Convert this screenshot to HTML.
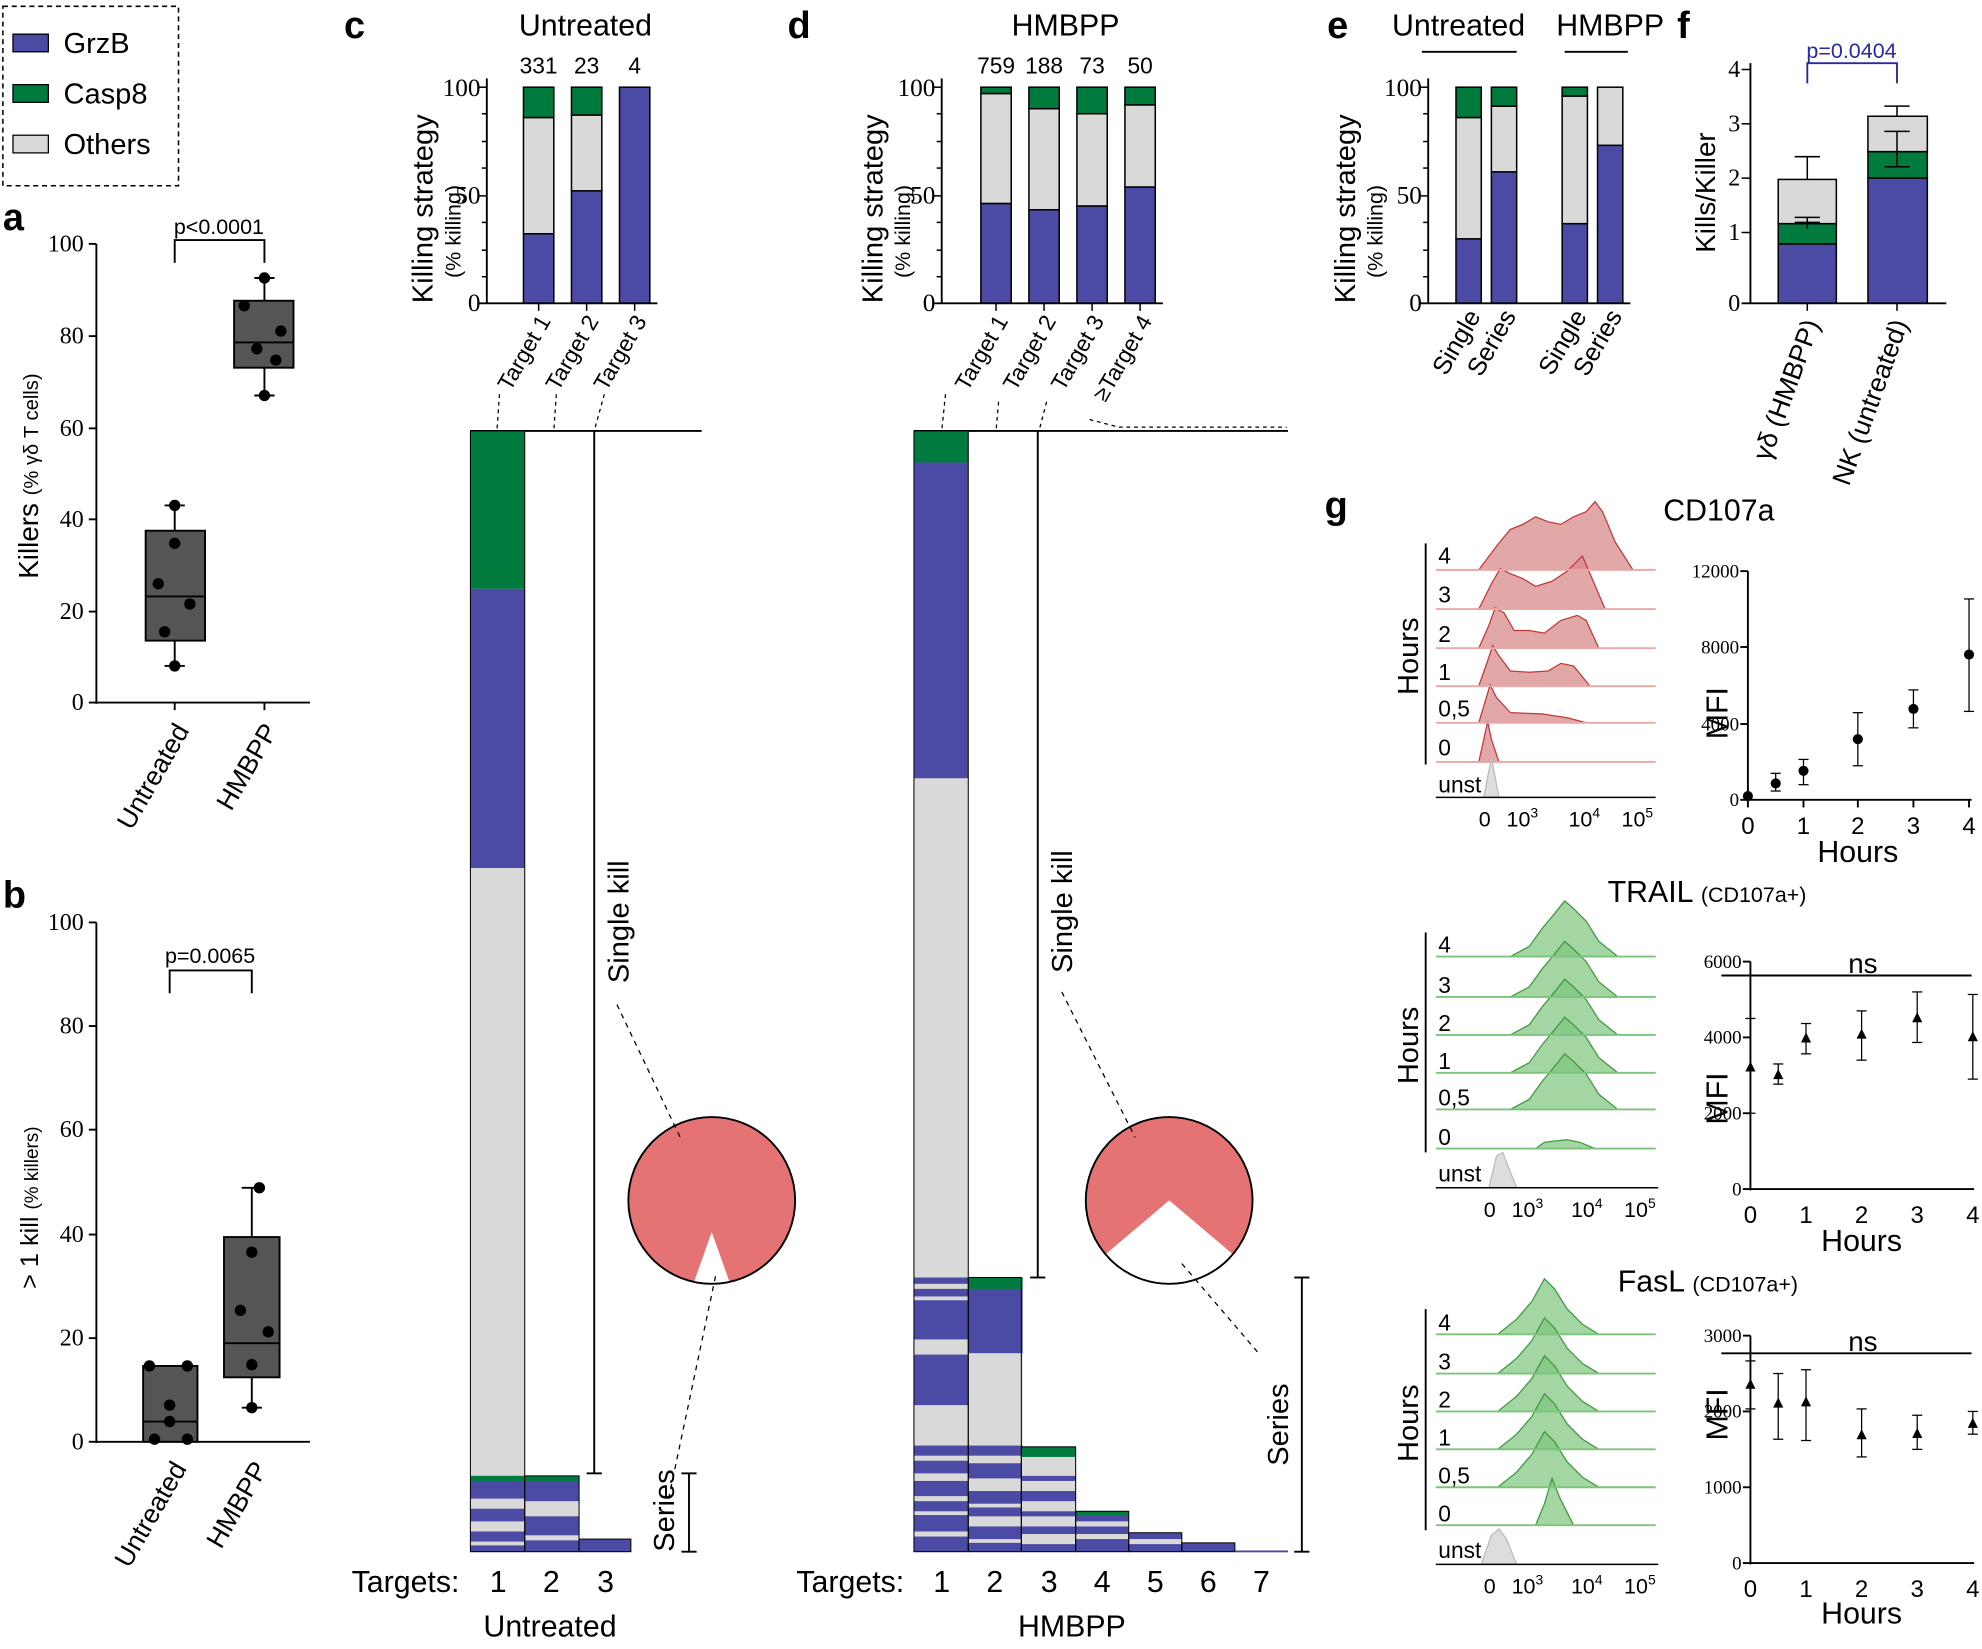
<!DOCTYPE html>
<html><head><meta charset="utf-8"><style>
html,body{margin:0;padding:0;background:#fff}
svg{display:block}
text{font-family:"Liberation Sans",sans-serif;fill:#000}
.s text,text.s{font-family:"Liberation Serif",serif}
</style></head><body>
<svg width="1982" height="1649" viewBox="0 0 1568 1305" xmlns="http://www.w3.org/2000/svg">
<defs>
<path id="r4" d="M1170,0 L1185,-20 L1195,-32 L1205,-36 L1215,-42 L1225,-38 L1235,-36 L1245,-42 L1255,-46 L1262,-54 L1268,-46 L1278,-22 L1292,0 Z"/>
<path id="r3" d="M1170,0 L1180,-20 L1187,-32 L1195,-28 L1205,-24 L1215,-18 L1228,-22 L1240,-30 L1252,-42 L1258,-28 L1270,0 Z"/>
<path id="r2" d="M1170,0 L1178,-18 L1183,-32 L1190,-28 L1198,-14 L1210,-14 L1222,-12 L1235,-22 L1248,-26 L1255,-22 L1265,0 Z"/>
<path id="r1" d="M1170,0 L1177,-20 L1181,-32 L1186,-24 L1195,-12 L1210,-11 L1225,-12 L1235,-18 L1245,-16 L1258,0 Z"/>
<path id="r05" d="M1170,0 L1176,-20 L1179,-30 L1184,-20 L1195,-8 L1220,-7 L1240,-4 L1255,0 Z"/>
<path id="r0" d="M1170,0 L1174,-18 L1177,-32 L1180,-18 L1186,0 Z"/>
<path id="gT" d="M1195,0 L1210,-8 L1220,-22 L1230,-34 L1238,-44 L1245,-38 L1255,-28 L1265,-12 L1280,0 Z"/>
<path id="gF" d="M1185,0 L1200,-12 L1212,-26 L1222,-44 L1230,-36 L1240,-20 L1252,-8 L1265,0 Z"/>
<clipPath id="pc"><circle cx="563" cy="950" r="66"/></clipPath>
<clipPath id="pd"><circle cx="925" cy="950" r="66"/></clipPath>
</defs>

<!-- Legend -->
<rect x="2" y="5" width="139" height="142" fill="none" stroke="#000" stroke-dasharray="4,3" stroke-width="1.2"/>
<rect x="10" y="27" width="28" height="14" fill="#4b4ba6" stroke="#000"/><text x="50" y="42" font-size="23">GrzB</text>
<rect x="10" y="67" width="28" height="14" fill="#007a3d" stroke="#000"/><text x="50" y="82" font-size="23">Casp8</text>
<rect x="10" y="107" width="28" height="14" fill="#d9d9d9" stroke="#000"/><text x="50" y="122" font-size="23">Others</text>

<!-- Panel a -->
<text x="2" y="182" font-size="30" font-weight="bold">a</text>
<g stroke="#000" stroke-width="1.5" fill="none">
<line x1="76" y1="193" x2="76" y2="557"/><line x1="76" y1="556" x2="245" y2="556"/>
<line x1="70" y1="193" x2="76" y2="193"/><line x1="70" y1="266" x2="76" y2="266"/><line x1="70" y1="339" x2="76" y2="339"/><line x1="70" y1="411" x2="76" y2="411"/><line x1="70" y1="484" x2="76" y2="484"/><line x1="70" y1="556" x2="76" y2="556"/>
<line x1="138" y1="556" x2="138" y2="562"/><line x1="209" y1="556" x2="209" y2="562"/>
<path d="M138,208 V190 H209 V208"/>
</g>
<g class="s" font-size="19" text-anchor="end"><text x="66" y="199">100</text><text x="66" y="272">80</text><text x="66" y="345">60</text><text x="66" y="417">40</text><text x="66" y="490">20</text><text x="66" y="562">0</text></g>
<text x="173" y="185" font-size="17" text-anchor="middle">p&lt;0.0001</text>
<text transform="translate(30,458) rotate(-90)" font-size="22">Killers <tspan font-size="16">(% γδ T cells)</tspan></text>
<g stroke="#000" stroke-width="1.5">
<line x1="138" y1="400" x2="138" y2="527"/><rect x="115" y="420" width="47" height="87" fill="#555"/><line x1="115" y1="472" x2="162" y2="472"/>
<line x1="209" y1="220" x2="209" y2="313"/><rect x="185" y="238" width="47" height="53" fill="#555"/><line x1="185" y1="271" x2="232" y2="271"/>
<line x1="130" y1="400" x2="146" y2="400"/><line x1="130" y1="527" x2="146" y2="527"/><line x1="201" y1="220" x2="217" y2="220"/><line x1="201" y1="313" x2="217" y2="313"/>
</g>
<g fill="#000"><circle cx="138" cy="400" r="4.5"/><circle cx="138" cy="430" r="4.5"/><circle cx="125" cy="462" r="4.5"/><circle cx="150" cy="478" r="4.5"/><circle cx="130" cy="500" r="4.5"/><circle cx="138" cy="527" r="4.5"/>
<circle cx="209" cy="220" r="4.5"/><circle cx="193" cy="242" r="4.5"/><circle cx="222" cy="262" r="4.5"/><circle cx="203" cy="276" r="4.5"/><circle cx="218" cy="285" r="4.5"/><circle cx="209" cy="313" r="4.5"/></g>
<text transform="translate(150,578) rotate(-60)" font-size="21" text-anchor="end">Untreated</text>
<text transform="translate(220,578) rotate(-60)" font-size="21" text-anchor="end">HMBPP</text>

<!-- Panel b -->
<text x="2" y="718" font-size="30" font-weight="bold">b</text>
<g stroke="#000" stroke-width="1.5" fill="none">
<line x1="76" y1="730" x2="76" y2="1142"/><line x1="76" y1="1141" x2="245" y2="1141"/>
<line x1="70" y1="730" x2="76" y2="730"/><line x1="70" y1="812" x2="76" y2="812"/><line x1="70" y1="894" x2="76" y2="894"/><line x1="70" y1="977" x2="76" y2="977"/><line x1="70" y1="1059" x2="76" y2="1059"/><line x1="70" y1="1141" x2="76" y2="1141"/>
<path d="M134,786 V768 H199 V786"/>
</g>
<g class="s" font-size="19" text-anchor="end"><text x="66" y="736">100</text><text x="66" y="818">80</text><text x="66" y="900">60</text><text x="66" y="983">40</text><text x="66" y="1065">20</text><text x="66" y="1147">0</text></g>
<text x="166" y="762" font-size="17" text-anchor="middle">p=0.0065</text>
<text transform="translate(30,1020) rotate(-90)" font-size="20">&gt; 1 kill <tspan font-size="15">(% killers)</tspan></text>
<g stroke="#000" stroke-width="1.5">
<rect x="113" y="1081" width="43" height="60" fill="#555"/><line x1="113" y1="1125" x2="156" y2="1125"/>
<line x1="199" y1="940" x2="199" y2="1114"/><rect x="177" y="979" width="44" height="111" fill="#555"/><line x1="177" y1="1063" x2="221" y2="1063"/>
<line x1="191" y1="940" x2="207" y2="940"/><line x1="191" y1="1114" x2="207" y2="1114"/>
</g>
<g fill="#000"><circle cx="118" cy="1081" r="4.5"/><circle cx="148" cy="1081" r="4.5"/><circle cx="134" cy="1112" r="4.5"/><circle cx="122" cy="1139" r="4.5"/><circle cx="148" cy="1139" r="4.5"/><circle cx="134" cy="1125" r="4.5"/>
<circle cx="205" cy="940" r="4.5"/><circle cx="199" cy="991" r="4.5"/><circle cx="190" cy="1037" r="4.5"/><circle cx="212" cy="1054" r="4.5"/><circle cx="199" cy="1080" r="4.5"/><circle cx="199" cy="1114" r="4.5"/></g>
<text transform="translate(148,1162) rotate(-60)" font-size="21" text-anchor="end">Untreated</text>
<text transform="translate(212,1162) rotate(-60)" font-size="21" text-anchor="end">HMBPP</text>

<!-- Panel c top -->
<text x="272" y="30" font-size="30" font-weight="bold">c</text>
<text x="463" y="28" font-size="24" text-anchor="middle">Untreated</text>
<text transform="translate(342,240) rotate(-90)" font-size="23">Killing strategy</text>
<text transform="translate(364,220) rotate(-90)" font-size="17">(% killing)</text>
<g class="s" font-size="20" text-anchor="end"><text x="380" y="76">100</text><text x="380" y="161">50</text><text x="380" y="246">0</text></g>
<g font-size="18" text-anchor="middle"><text x="426" y="58">331</text><text x="464" y="58">23</text><text x="502" y="58">4</text></g>
<g stroke="#000" stroke-width="1.2">
<rect x="414" y="185" width="24" height="55" fill="#4b4ba6"/><rect x="414" y="93" width="24" height="92" fill="#d9d9d9"/><rect x="414" y="69" width="24" height="24" fill="#007a3d"/>
<rect x="452" y="151" width="24" height="89" fill="#4b4ba6"/><rect x="452" y="91" width="24" height="60" fill="#d9d9d9"/><rect x="452" y="69" width="24" height="22" fill="#007a3d"/>
<rect x="490" y="69" width="24" height="171" fill="#4b4ba6"/>
<line x1="385" y1="62" x2="385" y2="240" stroke-width="1.5"/><line x1="378" y1="240" x2="520" y2="240" stroke-width="1.5"/>
<line x1="378" y1="69" x2="385" y2="69"/><line x1="378" y1="155" x2="385" y2="155"/>
<line x1="381" y1="90" x2="385" y2="90"/><line x1="381" y1="112" x2="385" y2="112"/><line x1="381" y1="133" x2="385" y2="133"/><line x1="381" y1="176" x2="385" y2="176"/><line x1="381" y1="198" x2="385" y2="198"/><line x1="381" y1="219" x2="385" y2="219"/>
<line x1="426" y1="240" x2="426" y2="246"/><line x1="464" y1="240" x2="464" y2="246"/><line x1="502" y1="240" x2="502" y2="246"/>
</g>
<g font-size="18" text-anchor="end"><text transform="translate(436,254) rotate(-60)">Target 1</text><text transform="translate(474,254) rotate(-60)">Target 2</text><text transform="translate(512,254) rotate(-60)">Target 3</text></g>
<g stroke="#000" stroke-dasharray="3,3" fill="none"><path d="M395,312 L393,341"/><path d="M440,312 L438,341"/><path d="M478,312 L470,341"/></g>

<!-- Panel c bottom -->
<line x1="372" y1="341" x2="555" y2="341" stroke="#000" stroke-width="1.5"/>
<rect x="372" y="341" width="43" height="125" fill="#007a3d"/>
<rect x="372" y="466" width="43" height="221" fill="#4b4ba6"/>
<rect x="372" y="687" width="43" height="481" fill="#d9d9d9"/>
<rect x="372" y="1168" width="43" height="60" fill="#4b4ba6"/>
<rect x="372" y="1168" width="43" height="4" fill="#007a3d"/>
<rect x="372" y="1186" width="43" height="8" fill="#d9d9d9"/><rect x="372" y="1204" width="43" height="8" fill="#d9d9d9"/><rect x="372" y="1220" width="43" height="3" fill="#d9d9d9"/>
<rect x="415" y="1168" width="43" height="60" fill="#4b4ba6"/><rect x="415" y="1168" width="43" height="4" fill="#007a3d"/>
<rect x="415" y="1188" width="43" height="12" fill="#d9d9d9"/><rect x="415" y="1215" width="43" height="4" fill="#d9d9d9"/>
<rect x="458" y="1218" width="41" height="10" fill="#4b4ba6"/>
<rect x="372" y="341" width="43" height="887" fill="none" stroke="#000" stroke-width="0.8"/>
<rect x="415" y="1168" width="43" height="60" fill="none" stroke="#000" stroke-width="0.8"/>
<rect x="458" y="1218" width="41" height="10" fill="none" stroke="#000" stroke-width="0.8"/>
<line x1="470" y1="341" x2="470" y2="1166" stroke="#000" stroke-width="1.5"/>
<line x1="464" y1="1166" x2="476" y2="1166" stroke="#000" stroke-width="1.5"/>
<text transform="translate(497,778) rotate(-90)" font-size="23">Single kill</text>
<circle cx="563" cy="950" r="66" fill="#e57373"/>
<polygon points="563,975 547,1020 579,1020" fill="#fff" clip-path="url(#pc)"/>
<circle cx="563" cy="950" r="66" fill="none" stroke="#000" stroke-width="1.5"/>
<line x1="488" y1="795" x2="538" y2="900" stroke="#000" stroke-dasharray="4,4"/>
<line x1="566" y1="1010" x2="528" y2="1190" stroke="#000" stroke-dasharray="4,4"/>
<g stroke="#000" stroke-width="1.5"><line x1="545" y1="1166" x2="545" y2="1228"/><line x1="539" y1="1166" x2="551" y2="1166"/><line x1="539" y1="1228" x2="551" y2="1228"/></g>
<text transform="translate(533,1228) rotate(-90)" font-size="23">Series</text>
<text x="278" y="1260" font-size="24">Targets:</text>
<g font-size="24" text-anchor="middle"><text x="394" y="1260">1</text><text x="436" y="1260">2</text><text x="479" y="1260">3</text></g>
<text x="435" y="1295" font-size="24" text-anchor="middle">Untreated</text>

<!-- Panel d top -->
<text x="623" y="30" font-size="30" font-weight="bold">d</text>
<text x="843" y="28" font-size="24" text-anchor="middle">HMBPP</text>
<text transform="translate(698,240) rotate(-90)" font-size="23">Killing strategy</text>
<text transform="translate(720,220) rotate(-90)" font-size="17">(% killing)</text>
<g class="s" font-size="20" text-anchor="end"><text x="740" y="76">100</text><text x="740" y="161">50</text><text x="740" y="246">0</text></g>
<g font-size="18" text-anchor="middle"><text x="788" y="58">759</text><text x="826" y="58">188</text><text x="864" y="58">73</text><text x="902" y="58">50</text></g>
<g stroke="#000" stroke-width="1.2">
<rect x="776" y="161" width="24" height="79" fill="#4b4ba6"/><rect x="776" y="74" width="24" height="87" fill="#d9d9d9"/><rect x="776" y="69" width="24" height="5" fill="#007a3d"/>
<rect x="814" y="166" width="24" height="74" fill="#4b4ba6"/><rect x="814" y="86" width="24" height="80" fill="#d9d9d9"/><rect x="814" y="69" width="24" height="17" fill="#007a3d"/>
<rect x="852" y="163" width="24" height="77" fill="#4b4ba6"/><rect x="852" y="90" width="24" height="73" fill="#d9d9d9"/><rect x="852" y="69" width="24" height="21" fill="#007a3d"/>
<rect x="890" y="148" width="24" height="92" fill="#4b4ba6"/><rect x="890" y="83" width="24" height="65" fill="#d9d9d9"/><rect x="890" y="69" width="24" height="14" fill="#007a3d"/>
<line x1="745" y1="62" x2="745" y2="240" stroke-width="1.5"/><line x1="738" y1="240" x2="920" y2="240" stroke-width="1.5"/>
<line x1="738" y1="69" x2="745" y2="69"/><line x1="738" y1="155" x2="745" y2="155"/>
<line x1="741" y1="90" x2="745" y2="90"/><line x1="741" y1="112" x2="745" y2="112"/><line x1="741" y1="133" x2="745" y2="133"/><line x1="741" y1="176" x2="745" y2="176"/><line x1="741" y1="198" x2="745" y2="198"/><line x1="741" y1="219" x2="745" y2="219"/>
<line x1="788" y1="240" x2="788" y2="246"/><line x1="826" y1="240" x2="826" y2="246"/><line x1="864" y1="240" x2="864" y2="246"/><line x1="902" y1="240" x2="902" y2="246"/>
</g>
<g font-size="18" text-anchor="end"><text transform="translate(798,254) rotate(-60)">Target 1</text><text transform="translate(836,254) rotate(-60)">Target 2</text><text transform="translate(874,254) rotate(-60)">Target 3</text><text transform="translate(912,254) rotate(-60)">≥Target 4</text></g>
<g stroke="#000" stroke-dasharray="3,3" fill="none"><path d="M748,312 L745,341"/><path d="M790,318 L788,341"/><path d="M828,318 L822,341"/><path d="M862,332 L885,338 L1018,338"/></g>

<!-- Panel d bottom -->
<line x1="723" y1="341" x2="1019" y2="341" stroke="#000" stroke-width="1.5"/>
<rect x="723" y="341" width="43" height="25" fill="#007a3d"/>
<rect x="723" y="366" width="43" height="250" fill="#4b4ba6"/>
<rect x="723" y="616" width="43" height="395" fill="#d9d9d9"/>
<rect x="723" y="1011" width="43" height="217" fill="#4b4ba6"/>
<g fill="#d9d9d9">
<rect x="723" y="1016" width="43" height="4"/><rect x="723" y="1026" width="43" height="3"/><rect x="723" y="1060" width="43" height="12"/><rect x="723" y="1112" width="43" height="32"/><rect x="723" y="1152" width="43" height="4"/><rect x="723" y="1166" width="43" height="6"/><rect x="723" y="1184" width="43" height="4"/><rect x="723" y="1196" width="43" height="3"/><rect x="723" y="1212" width="43" height="4"/>
</g>
<rect x="766" y="1011" width="43" height="60" fill="#4b4ba6"/><rect x="766" y="1011" width="43" height="9" fill="#007a3d"/>
<rect x="766" y="1071" width="43" height="73" fill="#d9d9d9"/>
<rect x="766" y="1144" width="43" height="84" fill="#4b4ba6"/>
<g fill="#d9d9d9"><rect x="766" y="1152" width="43" height="6"/><rect x="766" y="1170" width="43" height="10"/><rect x="766" y="1190" width="43" height="3"/><rect x="766" y="1200" width="43" height="8"/><rect x="766" y="1218" width="43" height="3"/></g>
<rect x="808" y="1145" width="43" height="83" fill="#d9d9d9"/><rect x="808" y="1145" width="43" height="8" fill="#007a3d"/>
<g fill="#4b4ba6"><rect x="808" y="1168" width="43" height="4"/><rect x="808" y="1180" width="43" height="8"/><rect x="808" y="1196" width="43" height="4"/><rect x="808" y="1208" width="43" height="6"/><rect x="808" y="1222" width="43" height="6"/></g>
<rect x="851" y="1196" width="42" height="32" fill="#4b4ba6"/><rect x="851" y="1196" width="42" height="3" fill="#007a3d"/>
<g fill="#d9d9d9"><rect x="851" y="1204" width="42" height="4"/><rect x="851" y="1214" width="42" height="4"/></g>
<rect x="893" y="1213" width="42" height="15" fill="#4b4ba6"/><rect x="893" y="1218" width="42" height="4" fill="#d9d9d9"/>
<rect x="935" y="1221" width="42" height="7" fill="#4b4ba6"/>
<rect x="977" y="1227" width="42" height="1.5" fill="#4b4ba6"/>
<g fill="none" stroke="#000" stroke-width="0.8"><rect x="723" y="341" width="43" height="887"/><rect x="766" y="1011" width="42" height="217"/><rect x="808" y="1145" width="43" height="83"/><rect x="851" y="1196" width="42" height="32"/><rect x="893" y="1213" width="42" height="15"/><rect x="935" y="1221" width="42" height="7"/></g>
<line x1="821" y1="341" x2="821" y2="1011" stroke="#000" stroke-width="1.5"/>
<line x1="815" y1="1011" x2="827" y2="1011" stroke="#000" stroke-width="1.5"/>
<text transform="translate(848,770) rotate(-90)" font-size="23">Single kill</text>
<circle cx="925" cy="950" r="66" fill="#e57373"/>
<polygon points="925,950 860,1005 860,1030 990,1030 990,1005" fill="#fff" clip-path="url(#pd)"/>
<circle cx="925" cy="950" r="66" fill="none" stroke="#000" stroke-width="1.5"/>
<line x1="840" y1="785" x2="898" y2="900" stroke="#000" stroke-dasharray="4,4"/>
<line x1="935" y1="1000" x2="995" y2="1070" stroke="#000" stroke-dasharray="4,4"/>
<g stroke="#000" stroke-width="1.5"><line x1="1030" y1="1011" x2="1030" y2="1228"/><line x1="1024" y1="1011" x2="1036" y2="1011"/><line x1="1024" y1="1228" x2="1036" y2="1228"/></g>
<text transform="translate(1019,1160) rotate(-90)" font-size="23">Series</text>
<text x="630" y="1260" font-size="24">Targets:</text>
<g font-size="24" text-anchor="middle"><text x="745" y="1260">1</text><text x="787" y="1260">2</text><text x="830" y="1260">3</text><text x="872" y="1260">4</text><text x="914" y="1260">5</text><text x="956" y="1260">6</text><text x="998" y="1260">7</text></g>
<text x="848" y="1295" font-size="24" text-anchor="middle">HMBPP</text>

<!-- Panel e -->
<text x="1050" y="30" font-size="30" font-weight="bold">e</text>
<text x="1154" y="28" font-size="24" text-anchor="middle">Untreated</text>
<text x="1274" y="28" font-size="24" text-anchor="middle">HMBPP</text>
<line x1="1125" y1="41" x2="1200" y2="41" stroke="#000" stroke-width="1.5"/>
<line x1="1238" y1="41" x2="1288" y2="41" stroke="#000" stroke-width="1.5"/>
<text transform="translate(1072,240) rotate(-90)" font-size="23">Killing strategy</text>
<text transform="translate(1094,220) rotate(-90)" font-size="17">(% killing)</text>
<g class="s" font-size="20" text-anchor="end"><text x="1125" y="76">100</text><text x="1125" y="161">50</text><text x="1125" y="246">0</text></g>
<g stroke="#000" stroke-width="1.2">
<rect x="1152" y="189" width="20" height="51" fill="#4b4ba6"/><rect x="1152" y="93" width="20" height="96" fill="#d9d9d9"/><rect x="1152" y="69" width="20" height="24" fill="#007a3d"/>
<rect x="1180" y="136" width="20" height="104" fill="#4b4ba6"/><rect x="1180" y="84" width="20" height="52" fill="#d9d9d9"/><rect x="1180" y="69" width="20" height="15" fill="#007a3d"/>
<rect x="1236" y="177" width="20" height="63" fill="#4b4ba6"/><rect x="1236" y="76" width="20" height="101" fill="#d9d9d9"/><rect x="1236" y="69" width="20" height="7" fill="#007a3d"/>
<rect x="1264" y="115" width="20" height="125" fill="#4b4ba6"/><rect x="1264" y="69" width="20" height="46" fill="#d9d9d9"/>
<line x1="1130" y1="62" x2="1130" y2="240" stroke-width="1.5"/><line x1="1123" y1="240" x2="1290" y2="240" stroke-width="1.5"/>
<line x1="1123" y1="69" x2="1130" y2="69"/><line x1="1123" y1="155" x2="1130" y2="155"/>
<line x1="1126" y1="90" x2="1130" y2="90"/><line x1="1126" y1="112" x2="1130" y2="112"/><line x1="1126" y1="133" x2="1130" y2="133"/><line x1="1126" y1="176" x2="1130" y2="176"/><line x1="1126" y1="198" x2="1130" y2="198"/><line x1="1126" y1="219" x2="1130" y2="219"/>
</g>
<g font-size="20" text-anchor="end"><text transform="translate(1172,250) rotate(-60)">Single</text><text transform="translate(1200,250) rotate(-60)">Series</text><text transform="translate(1256,250) rotate(-60)">Single</text><text transform="translate(1284,250) rotate(-60)">Series</text></g>

<!-- Panel f -->
<text x="1327" y="30" font-size="30" font-weight="bold">f</text>
<text transform="translate(1357,200) rotate(-90)" font-size="22">Kills/Killer</text>
<g class="s" font-size="19" text-anchor="end"><text x="1377" y="61">4</text><text x="1377" y="104">3</text><text x="1377" y="147">2</text><text x="1377" y="190">1</text><text x="1377" y="246">0</text></g>
<g stroke="#000" stroke-width="1.2">
<line x1="1430" y1="124" x2="1430" y2="142"/><line x1="1420" y1="124" x2="1440" y2="124"/>
<rect x="1407" y="193" width="46" height="47" fill="#4b4ba6"/><rect x="1407" y="177" width="46" height="16" fill="#007a3d"/><rect x="1407" y="142" width="46" height="35" fill="#d9d9d9"/>
<line x1="1420" y1="176" x2="1440" y2="176"/><line x1="1430" y1="172" x2="1430" y2="181"/><line x1="1420" y1="172" x2="1440" y2="172"/>
<line x1="1501" y1="84" x2="1501" y2="92"/><line x1="1491" y1="84" x2="1511" y2="84"/>
<rect x="1478" y="141" width="47" height="99" fill="#4b4ba6"/><rect x="1478" y="120" width="47" height="21" fill="#007a3d"/><rect x="1478" y="92" width="47" height="28" fill="#d9d9d9"/>
<line x1="1491" y1="132" x2="1511" y2="132"/><line x1="1501" y1="104" x2="1501" y2="132"/><line x1="1491" y1="104" x2="1511" y2="104"/>
<line x1="1385" y1="50" x2="1385" y2="240" stroke-width="1.5"/><line x1="1378" y1="240" x2="1540" y2="240" stroke-width="1.5"/>
<line x1="1378" y1="55" x2="1385" y2="55"/><line x1="1378" y1="98" x2="1385" y2="98"/><line x1="1378" y1="141" x2="1385" y2="141"/><line x1="1378" y1="184" x2="1385" y2="184"/>
<line x1="1430" y1="240" x2="1430" y2="246"/><line x1="1501" y1="240" x2="1501" y2="246"/>
</g>
<path d="M1430,66 V50 H1501 V66" fill="none" stroke="#2a2aa0" stroke-width="1.5"/>
<text x="1465" y="46" font-size="17" text-anchor="middle" style="fill:#2a2aa0">p=0.0404</text>
<g font-size="21" text-anchor="end"><text transform="translate(1440,256) rotate(-70)">γδ (HMBPP)</text><text transform="translate(1510,256) rotate(-70)">NK (untreated)</text></g>

<!-- Panel g -->
<text x="1048" y="410" font-size="30" font-weight="bold">g</text>
<text x="1360" y="412" font-size="24" text-anchor="middle">CD107a</text>
<line x1="1128" y1="430" x2="1128" y2="605" stroke="#000" stroke-width="1.5"/>
<text transform="translate(1122,550) rotate(-90)" font-size="23">Hours</text>
<g fill="#d8898a" stroke="#c0393b" stroke-width="1" fill-opacity="0.75">
<use href="#r4" transform="translate(0,451)"/><use href="#r3" transform="translate(0,482)"/><use href="#r2" transform="translate(0,513)"/><use href="#r1" transform="translate(0,543)"/><use href="#r05" transform="translate(0,572)"/><use href="#r0" transform="translate(0,603)"/>
</g>
<g stroke="#e8a8a8" stroke-width="1.5"><line x1="1136" y1="451" x2="1310" y2="451"/><line x1="1136" y1="482" x2="1310" y2="482"/><line x1="1136" y1="513" x2="1310" y2="513"/><line x1="1136" y1="543" x2="1310" y2="543"/><line x1="1136" y1="572" x2="1310" y2="572"/><line x1="1136" y1="603" x2="1310" y2="603"/></g>
<path d="M1174,631 L1178,610 L1180,600 L1183,615 L1186,631 Z" fill="#ddd" stroke="#bbb"/>
<g font-size="18"><text x="1138" y="446">4</text><text x="1138" y="477">3</text><text x="1138" y="508">2</text><text x="1138" y="538">1</text><text x="1138" y="567">0,5</text><text x="1138" y="598">0</text><text x="1138" y="627">unst</text></g>
<line x1="1136" y1="631" x2="1310" y2="631" stroke="#000" stroke-width="1.2"/>
<g font-size="17"><text x="1170" y="654">0</text><text x="1192" y="654">10<tspan dy="-7" font-size="11">3</tspan></text><text x="1241" y="654">10<tspan dy="-7" font-size="11">4</tspan></text><text x="1283" y="654">10<tspan dy="-7" font-size="11">5</tspan></text></g>

<g stroke="#000" stroke-width="1.5"><line x1="1383" y1="452" x2="1383" y2="634"/><line x1="1383" y1="633" x2="1560" y2="633"/>
<line x1="1377" y1="452" x2="1383" y2="452"/><line x1="1377" y1="512" x2="1383" y2="512"/><line x1="1377" y1="573" x2="1383" y2="573"/><line x1="1377" y1="633" x2="1383" y2="633"/>
<line x1="1383" y1="633" x2="1383" y2="639"/><line x1="1427" y1="633" x2="1427" y2="639"/><line x1="1470" y1="633" x2="1470" y2="639"/><line x1="1514" y1="633" x2="1514" y2="639"/><line x1="1558" y1="633" x2="1558" y2="639"/></g>
<g class="s" font-size="15" text-anchor="end"><text x="1376" y="457">12000</text><text x="1376" y="517">8000</text><text x="1376" y="578">4000</text><text x="1376" y="638">0</text></g>
<text transform="translate(1367,585) rotate(-90)" font-size="24">MFI</text>
<g font-size="19" text-anchor="middle"><text x="1383" y="660">0</text><text x="1427" y="660">1</text><text x="1470" y="660">2</text><text x="1514" y="660">3</text><text x="1558" y="660">4</text></g>
<text x="1470" y="682" font-size="24" text-anchor="middle">Hours</text>
<g stroke="#000" stroke-width="1"><line x1="1405" y1="612" x2="1405" y2="626"/><line x1="1427" y1="601" x2="1427" y2="621"/><line x1="1470" y1="564" x2="1470" y2="606"/><line x1="1514" y1="546" x2="1514" y2="576"/><line x1="1558" y1="474" x2="1558" y2="563"/>
<line x1="1401" y1="612" x2="1409" y2="612"/><line x1="1401" y1="626" x2="1409" y2="626"/><line x1="1423" y1="601" x2="1431" y2="601"/><line x1="1423" y1="621" x2="1431" y2="621"/><line x1="1466" y1="564" x2="1474" y2="564"/><line x1="1466" y1="606" x2="1474" y2="606"/><line x1="1510" y1="546" x2="1518" y2="546"/><line x1="1510" y1="576" x2="1518" y2="576"/><line x1="1554" y1="474" x2="1562" y2="474"/><line x1="1554" y1="563" x2="1562" y2="563"/></g>
<g fill="#000"><circle cx="1383" cy="630" r="4"/><circle cx="1405" cy="620" r="4"/><circle cx="1427" cy="610" r="4"/><circle cx="1470" cy="585" r="4"/><circle cx="1514" cy="561" r="4"/><circle cx="1558" cy="518" r="4"/></g>

<!-- TRAIL -->
<text x="1272" y="714" font-size="24">TRAIL <tspan font-size="17">(CD107a+)</tspan></text>
<line x1="1128" y1="738" x2="1128" y2="912" stroke="#000" stroke-width="1.5"/>
<text transform="translate(1122,858) rotate(-90)" font-size="23">Hours</text>
<g fill="#7cc47c" stroke="#3c9a3c" stroke-width="1" fill-opacity="0.7">
<use href="#gT" transform="translate(0,757)"/><use href="#gT" transform="translate(0,789)"/><use href="#gT" transform="translate(0,819)"/><use href="#gT" transform="translate(0,849)"/><use href="#gT" transform="translate(0,878)"/>
<path d="M1215,909 L1222,904 L1230,903 L1240,902 L1250,904 L1262,909 Z"/>
</g>
<g stroke="#7cc47c" stroke-width="1.5"><line x1="1136" y1="757" x2="1310" y2="757"/><line x1="1136" y1="789" x2="1310" y2="789"/><line x1="1136" y1="819" x2="1310" y2="819"/><line x1="1136" y1="849" x2="1310" y2="849"/><line x1="1136" y1="878" x2="1310" y2="878"/><line x1="1136" y1="909" x2="1310" y2="909"/></g>
<path d="M1178,940 L1184,915 L1189,912 L1194,925 L1200,940 Z" fill="#ddd" stroke="#bbb"/>
<g font-size="18"><text x="1138" y="754">4</text><text x="1138" y="786">3</text><text x="1138" y="816">2</text><text x="1138" y="846">1</text><text x="1138" y="875">0,5</text><text x="1138" y="906">0</text><text x="1138" y="935">unst</text></g>
<line x1="1136" y1="940" x2="1312" y2="940" stroke="#000" stroke-width="1.2"/>
<g font-size="17"><text x="1174" y="963">0</text><text x="1196" y="963">10<tspan dy="-7" font-size="11">3</tspan></text><text x="1243" y="963">10<tspan dy="-7" font-size="11">4</tspan></text><text x="1285" y="963">10<tspan dy="-7" font-size="11">5</tspan></text></g>
<g stroke="#000" stroke-width="1.5"><line x1="1385" y1="761" x2="1385" y2="942"/><line x1="1385" y1="941" x2="1562" y2="941"/><line x1="1362" y1="772" x2="1560" y2="772"/>
<line x1="1379" y1="761" x2="1385" y2="761"/><line x1="1379" y1="821" x2="1385" y2="821"/><line x1="1379" y1="881" x2="1385" y2="881"/><line x1="1379" y1="941" x2="1385" y2="941"/></g>
<text x="1474" y="770" font-size="22" text-anchor="middle">ns</text>
<g class="s" font-size="15" text-anchor="end"><text x="1378" y="766">6000</text><text x="1378" y="826">4000</text><text x="1378" y="886">2000</text><text x="1378" y="946">0</text></g>
<text transform="translate(1367,890) rotate(-90)" font-size="24">MFI</text>
<g font-size="19" text-anchor="middle"><text x="1385" y="968">0</text><text x="1429" y="968">1</text><text x="1473" y="968">2</text><text x="1517" y="968">3</text><text x="1561" y="968">4</text></g>
<text x="1473" y="990" font-size="24" text-anchor="middle">Hours</text>
<g stroke="#000" stroke-width="1">
<line x1="1385" y1="806" x2="1385" y2="881"/><line x1="1407" y1="842" x2="1407" y2="858"/><line x1="1429" y1="810" x2="1429" y2="834"/><line x1="1473" y1="800" x2="1473" y2="839"/><line x1="1517" y1="785" x2="1517" y2="825"/><line x1="1561" y1="787" x2="1561" y2="854"/>
<line x1="1381" y1="806" x2="1389" y2="806"/><line x1="1381" y1="881" x2="1389" y2="881"/><line x1="1403" y1="842" x2="1411" y2="842"/><line x1="1403" y1="858" x2="1411" y2="858"/><line x1="1425" y1="810" x2="1433" y2="810"/><line x1="1425" y1="834" x2="1433" y2="834"/><line x1="1469" y1="800" x2="1477" y2="800"/><line x1="1469" y1="839" x2="1477" y2="839"/><line x1="1513" y1="785" x2="1521" y2="785"/><line x1="1513" y1="825" x2="1521" y2="825"/><line x1="1557" y1="787" x2="1565" y2="787"/><line x1="1557" y1="854" x2="1565" y2="854"/></g>
<g fill="#000"><path d="M1385,840 l4,8 h-8z"/><path d="M1407,846 l4,8 h-8z"/><path d="M1429,817 l4,8 h-8z"/><path d="M1473,814 l4,8 h-8z"/><path d="M1517,801 l4,8 h-8z"/><path d="M1561,816 l4,8 h-8z"/></g>

<!-- FasL -->
<text x="1280" y="1022" font-size="24">FasL <tspan font-size="17">(CD107a+)</tspan></text>
<line x1="1128" y1="1036" x2="1128" y2="1211" stroke="#000" stroke-width="1.5"/>
<text transform="translate(1122,1157) rotate(-90)" font-size="23">Hours</text>
<g fill="#7cc47c" stroke="#3c9a3c" stroke-width="1" fill-opacity="0.7">
<use href="#gF" transform="translate(0,1056)"/><use href="#gF" transform="translate(0,1087)"/><use href="#gF" transform="translate(0,1117)"/><use href="#gF" transform="translate(0,1147)"/><use href="#gF" transform="translate(0,1177)"/>
<path d="M1215,1207 L1222,1190 L1228,1170 L1234,1185 L1245,1207 Z"/>
</g>
<g stroke="#7cc47c" stroke-width="1.5"><line x1="1136" y1="1056" x2="1310" y2="1056"/><line x1="1136" y1="1087" x2="1310" y2="1087"/><line x1="1136" y1="1117" x2="1310" y2="1117"/><line x1="1136" y1="1147" x2="1310" y2="1147"/><line x1="1136" y1="1177" x2="1310" y2="1177"/><line x1="1136" y1="1207" x2="1310" y2="1207"/></g>
<path d="M1172,1238 L1180,1215 L1186,1210 L1192,1218 L1200,1238 Z" fill="#ddd" stroke="#bbb"/>
<g font-size="18"><text x="1138" y="1053">4</text><text x="1138" y="1084">3</text><text x="1138" y="1114">2</text><text x="1138" y="1144">1</text><text x="1138" y="1174">0,5</text><text x="1138" y="1204">0</text><text x="1138" y="1233">unst</text></g>
<line x1="1136" y1="1238" x2="1312" y2="1238" stroke="#000" stroke-width="1.2"/>
<g font-size="17"><text x="1174" y="1261">0</text><text x="1196" y="1261">10<tspan dy="-7" font-size="11">3</tspan></text><text x="1243" y="1261">10<tspan dy="-7" font-size="11">4</tspan></text><text x="1285" y="1261">10<tspan dy="-7" font-size="11">5</tspan></text></g>
<g stroke="#000" stroke-width="1.5"><line x1="1385" y1="1057" x2="1385" y2="1238"/><line x1="1385" y1="1237" x2="1562" y2="1237"/><line x1="1362" y1="1071" x2="1560" y2="1071"/>
<line x1="1379" y1="1057" x2="1385" y2="1057"/><line x1="1379" y1="1117" x2="1385" y2="1117"/><line x1="1379" y1="1177" x2="1385" y2="1177"/><line x1="1379" y1="1237" x2="1385" y2="1237"/></g>
<text x="1474" y="1069" font-size="22" text-anchor="middle">ns</text>
<g class="s" font-size="15" text-anchor="end"><text x="1378" y="1062">3000</text><text x="1378" y="1122">2000</text><text x="1378" y="1182">1000</text><text x="1378" y="1242">0</text></g>
<text transform="translate(1367,1140) rotate(-90)" font-size="24">MFI</text>
<g font-size="19" text-anchor="middle"><text x="1385" y="1264">0</text><text x="1429" y="1264">1</text><text x="1473" y="1264">2</text><text x="1517" y="1264">3</text><text x="1561" y="1264">4</text></g>
<text x="1473" y="1285" font-size="24" text-anchor="middle">Hours</text>
<g stroke="#000" stroke-width="1"><line x1="1385" y1="1077" x2="1385" y2="1115"/><line x1="1407" y1="1087" x2="1407" y2="1139"/><line x1="1429" y1="1084" x2="1429" y2="1140"/><line x1="1473" y1="1115" x2="1473" y2="1153"/><line x1="1517" y1="1120" x2="1517" y2="1147"/><line x1="1561" y1="1117" x2="1561" y2="1135"/>
<line x1="1381" y1="1077" x2="1389" y2="1077"/><line x1="1381" y1="1115" x2="1389" y2="1115"/><line x1="1403" y1="1087" x2="1411" y2="1087"/><line x1="1403" y1="1139" x2="1411" y2="1139"/><line x1="1425" y1="1084" x2="1433" y2="1084"/><line x1="1425" y1="1140" x2="1433" y2="1140"/><line x1="1469" y1="1115" x2="1477" y2="1115"/><line x1="1469" y1="1153" x2="1477" y2="1153"/><line x1="1513" y1="1120" x2="1521" y2="1120"/><line x1="1513" y1="1147" x2="1521" y2="1147"/><line x1="1557" y1="1117" x2="1565" y2="1117"/><line x1="1557" y1="1135" x2="1565" y2="1135"/></g>
<g fill="#000"><path d="M1385,1091 l4,8 h-8z"/><path d="M1407,1106 l4,8 h-8z"/><path d="M1429,1105 l4,8 h-8z"/><path d="M1473,1131 l4,8 h-8z"/><path d="M1517,1130 l4,8 h-8z"/><path d="M1561,1122 l4,8 h-8z"/></g>
</svg>
</body></html>
